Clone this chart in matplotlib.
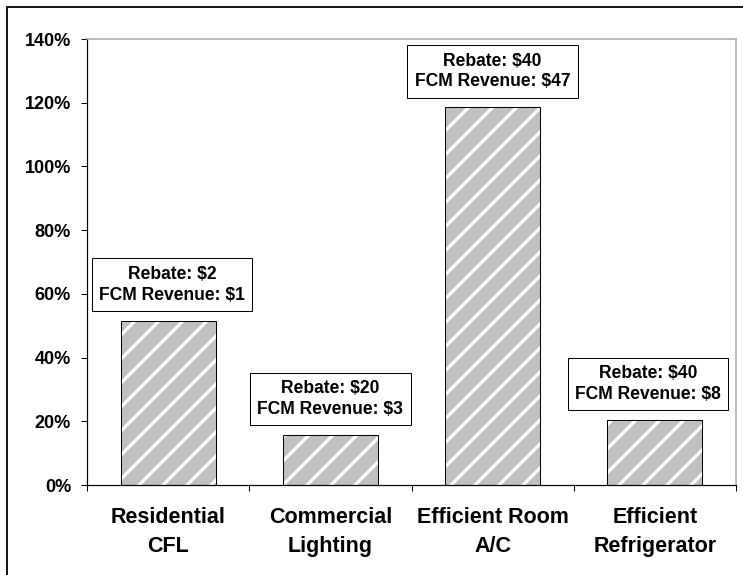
import matplotlib
matplotlib.use("Agg")
import matplotlib.pyplot as plt
from matplotlib.lines import Line2D
from matplotlib.ticker import FixedLocator, PercentFormatter

# Measures and their cost-coverage ratio (FCM revenue / rebate)
categories = ["Residential\nCFL", "Commercial\nLighting", "Efficient Room\nA/C", "Efficient\nRefrigerator"]
coverage_pct = [51.6, 15.7, 118.5, 20.4]
rebates = [2, 20, 40, 40]
fcm_revenue = [1, 3, 47, 8]
y_ticks = [0, 20, 40, 60, 80, 100, 120, 140]

DPI = 72
plt.rcParams["font.family"] = ["Liberation Sans", "DejaVu Sans"]
plt.rcParams["font.weight"] = "bold"
plt.rcParams["hatch.linewidth"] = 3.2

fig = plt.figure(figsize=(743 / DPI, 575 / DPI), dpi=DPI)
W, H = 743, 575
ax = fig.add_axes([87 / W, 1 - 485 / H, (736 - 87) / W, (485 - 39) / H])

x = list(range(len(categories)))
bar_w = 0.585
# striped fill, then the black outline on top
ax.bar(x, coverage_pct, width=bar_w, color="#c0c0c0", hatch="/",
       edgecolor="white", linewidth=0, zorder=2)
ax.bar(x, coverage_pct, width=bar_w, fill=False, edgecolor="black",
       linewidth=1.0, zorder=3)

# small sideways nudges keep the callouts inside the plot frame
label_nudge = [4, 0, 0, -7]
for xi, val, reb, rev, dx in zip(x, coverage_pct, rebates, fcm_revenue, label_nudge):
    ax.annotate(f"Rebate: ${reb}\nFCM Revenue: ${rev}", xy=(xi, val),
                xytext=(dx, 17), textcoords="offset points",
                ha="center", va="bottom", fontsize=17.5, fontweight="bold",
                linespacing=1.3, zorder=4,
                bbox=dict(boxstyle="square,pad=0.42", fc="white", ec="black", lw=1.0))

ax.set_xlim(-0.5, len(categories) - 0.5)
ax.set_ylim(0, 140)
ax.yaxis.set_major_locator(FixedLocator(y_ticks))
ax.yaxis.set_major_formatter(PercentFormatter(decimals=0))
ax.tick_params(axis="y", length=6, width=1.0, pad=10, labelsize=18, direction="out")

ax.xaxis.set_major_locator(FixedLocator([i - 0.5 for i in range(len(categories) + 1)]))
ax.xaxis.set_minor_locator(FixedLocator(x))
ax.set_xticklabels([], minor=False)
ax.set_xticklabels(categories, minor=True, fontsize=21.5, fontweight="bold", linespacing=1.5)
ax.tick_params(axis="x", which="major", length=6, width=1.0, direction="out")
ax.tick_params(axis="x", which="minor", length=0, pad=22)

for side in ("left", "bottom"):
    ax.spines[side].set_color("black")
    ax.spines[side].set_linewidth(1.2)
for side in ("top", "right"):
    ax.spines[side].set_color("#a6a6a6")
    ax.spines[side].set_linewidth(1.5)

# outer chart frame
fig.add_artist(Line2D([7 / W, 7 / W], [0, 1 - 7 / H], color="#1a1a1a", lw=2))
fig.add_artist(Line2D([7 / W, 1], [1 - 7 / H, 1 - 7 / H], color="#1a1a1a", lw=2))

fig.savefig("out.png", dpi=DPI)
